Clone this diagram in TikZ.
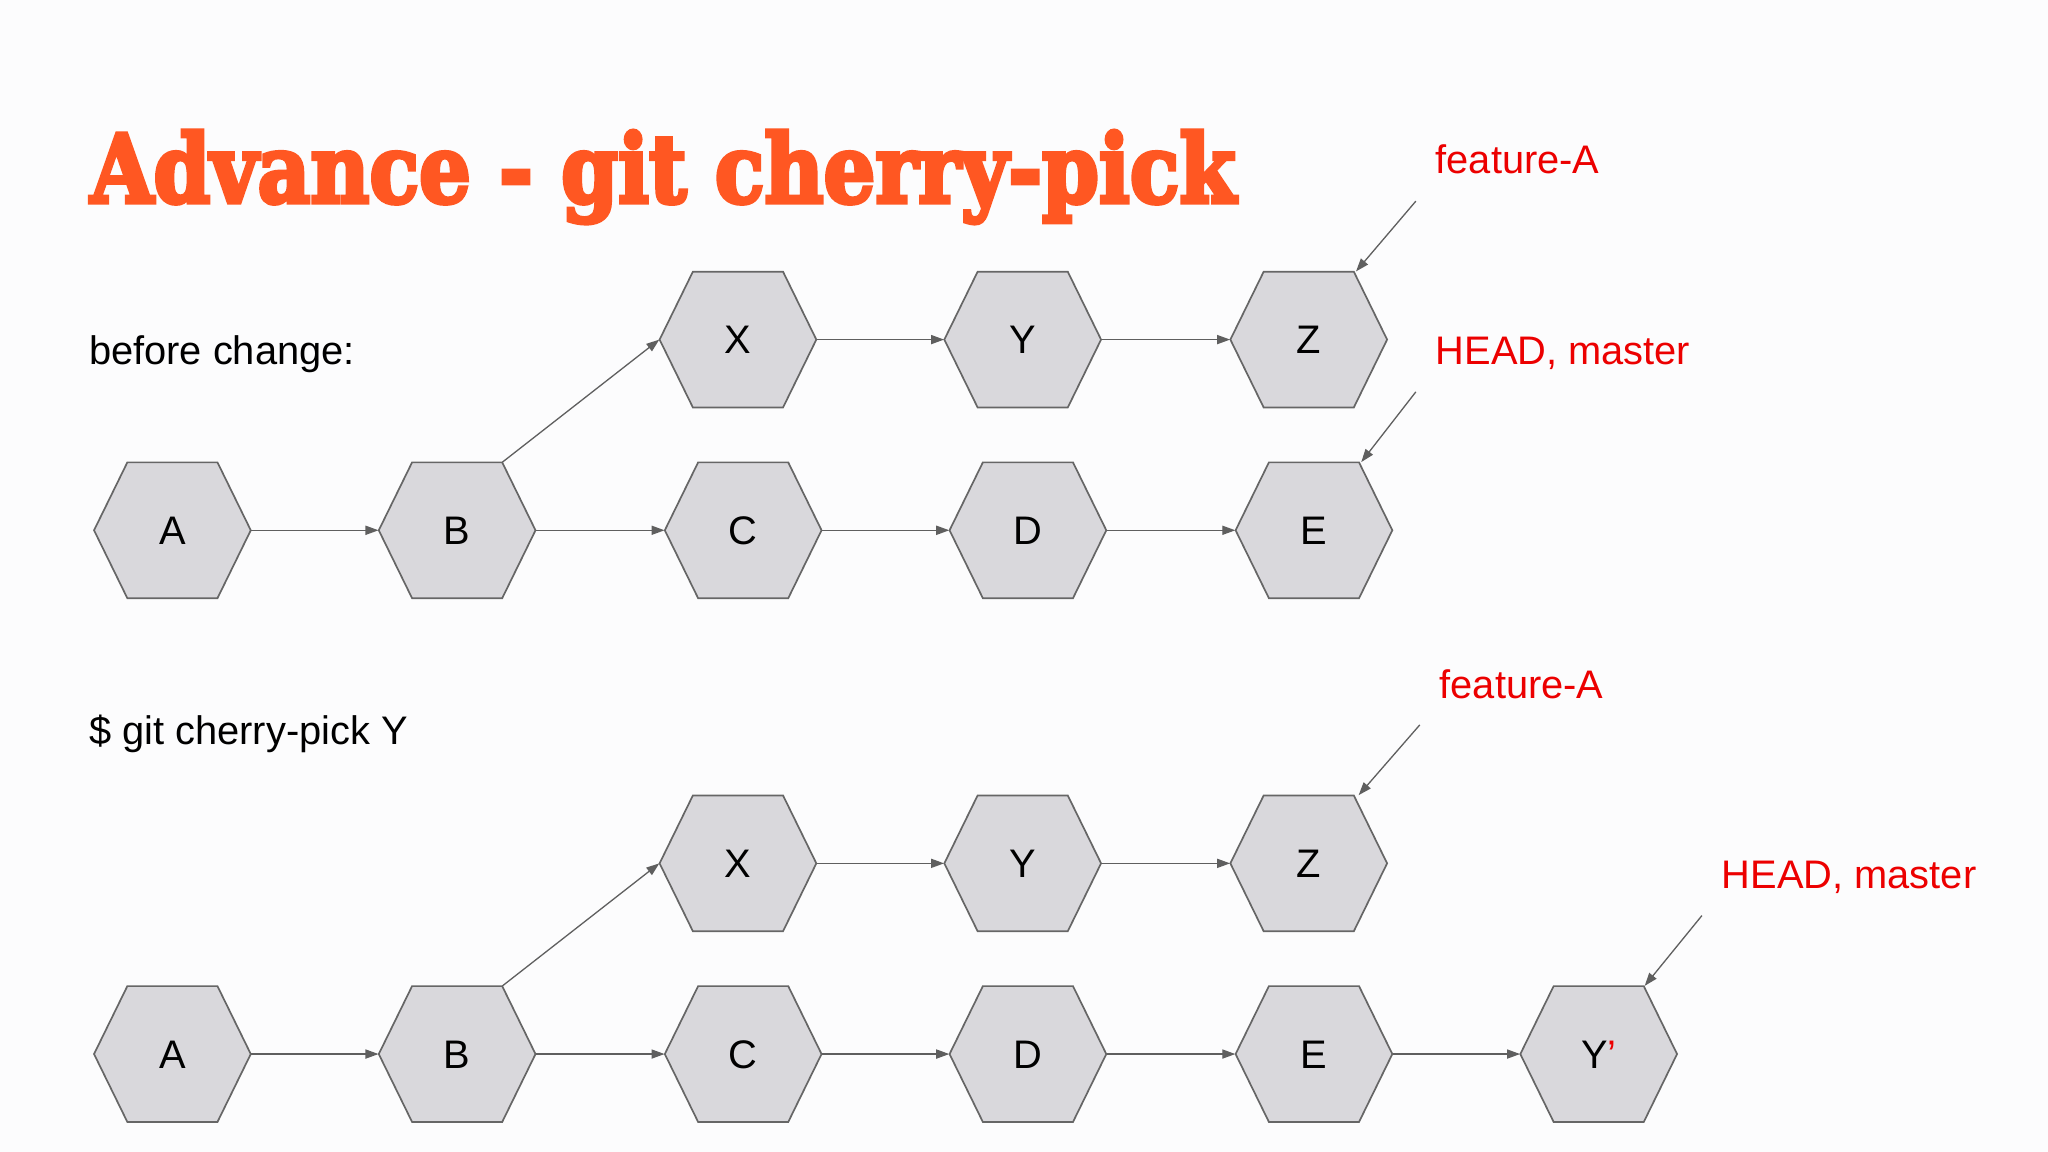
\documentclass[tikz,border=0pt]{standalone}
\usepackage{fontspec}
\setmainfont{Liberation Sans}
\newfontfamily\titlefont{DejaVu Serif}[BoldFeatures={FakeBold=4.5}]
\usetikzlibrary{arrows.meta}
\definecolor{bg}{RGB}{252,252,253}
\definecolor{hexfill}{RGB}{217,216,220}
\definecolor{hexline}{RGB}{102,102,102}
\definecolor{arrowgray}{RGB}{95,95,95}
\definecolor{labelred}{RGB}{236,0,0}
\definecolor{titleorange}{RGB}{255,87,34}
\newcommand\commit[4]{%
  \path[hexshape] (#2,#3) +(-60,0) -- +(-34.5,-52) -- +(34.5,-52) -- +(60,0) -- +(34.5,52) -- +(-34.5,52) -- cycle;
  \node[commitbox] (#1) at (#2,#3) {#4};}
\begin{document}
\begin{tikzpicture}[x=1pt,y=-1pt,
  hexshape/.style={fill=hexfill,draw=hexline,line width=1.3pt,line join=miter},
  commitbox/.style={draw=none,inner sep=0pt,minimum width=120pt,minimum height=104pt,text height=21.8pt,text depth=0pt,font=\fontsize{30.5}{36}\selectfont},
  link/.style={draw=arrowgray,line width=1pt,-{Triangle[length=10pt,width=7pt]}},
  plain/.style={inner sep=0pt,anchor=base west,font=\fontsize{30.5}{36}\selectfont},
  branch/.style={plain,text=labelred}]
\useasboundingbox (0,0) rectangle (1568,882);
\fill[bg] (0,0) rectangle (1568,882);

\node[anchor=base west,inner sep=0pt,text=titleorange] (title) at (69,155)
  {\resizebox{877pt}{55pt}{\fontsize{60}{70}\titlefont\bfseries Advance - git cherry-pick}};

\node[plain] (before) at (68,279) {before change:};
\node[plain] (cmd) at (68,570) {\$ git cherry-pick Y};

% diagram 1
\commit{A1}{132}{406}{A}
\commit{B1}{350}{406}{B}
\commit{C1}{569}{406}{C}
\commit{D1}{787}{406}{D}
\commit{E1}{1006}{406}{E}
\commit{X1}{565}{260}{X}
\commit{Y1}{783}{260}{Y}
\commit{Z1}{1002}{260}{Z}
\draw[link] (A1.east) -- (B1.west);
\draw[link] (B1.east) -- (C1.west);
\draw[link] (C1.east) -- (D1.west);
\draw[link] (D1.east) -- (E1.west);
\draw[link] ([xshift=-25.5pt]B1.north east) -- (X1.west);
\draw[link] (X1.east) -- (Y1.west);
\draw[link] (Y1.east) -- (Z1.west);

\node[branch] (lfA1) at (1099,133) {feature-A};
\node[branch] (lhm1) at (1099,279) {HEAD, master};
\coordinate (fA1) at (1084,154);
\coordinate (hm1) at (1084,300);
\draw[link] (fA1) -- ([xshift=-24pt]Z1.north east);
\draw[link] (hm1) -- ([xshift=-24pt]E1.north east);

% diagram 2
\commit{A2}{132}{807}{A}
\commit{B2}{350}{807}{B}
\commit{C2}{569}{807}{C}
\commit{D2}{787}{807}{D}
\commit{E2}{1006}{807}{E}
\commit{Yp2}{1224}{807}{Y\textcolor{labelred}{’}}
\commit{X2}{565}{661}{X}
\commit{Y2}{783}{661}{Y}
\commit{Z2}{1002}{661}{Z}
\draw[link] (A2.east) -- (B2.west);
\draw[link] (B2.east) -- (C2.west);
\draw[link] (C2.east) -- (D2.west);
\draw[link] (D2.east) -- (E2.west);
\draw[link] (E2.east) -- (Yp2.west);
\draw[link] ([xshift=-25.5pt]B2.north east) -- (X2.west);
\draw[link] (X2.east) -- (Y2.west);
\draw[link] (Y2.east) -- (Z2.west);

\node[branch] (lfA2) at (1102,535) {feature-A};
\node[branch] (lhm2) at (1318,680) {HEAD, master};
\coordinate (fA2) at (1087,555);
\coordinate (hm2) at (1303,701);
\draw[link] (fA2) -- ([xshift=-22pt]Z2.north east);
\draw[link] (hm2) -- ([xshift=-25pt]Yp2.north east);
\end{tikzpicture}
\end{document}
